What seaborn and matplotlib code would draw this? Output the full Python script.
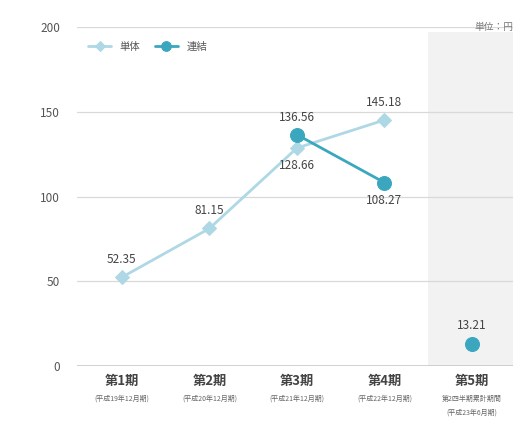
import matplotlib
matplotlib.use("Agg")
import matplotlib.pyplot as plt
import seaborn as sns
import pandas as pd
import numpy as np

periods = ["第1期", "第2期", "第3期", "第4期", "第5期"]
sub_labels = ["(平成19年12月期)", "(平成20年12月期)", "(平成21年12月期)", "(平成22年12月期)",
              "第2四半期累計期間\n(平成23年6月期)"]
tantai = [52.35, 81.15, 128.66, 145.18, np.nan]
renketsu = [np.nan, np.nan, 136.56, 108.27, 13.21]
series_names = ["単体", "連結"]
yticks = [0, 50, 100, 150, 200]
unit_label = "単位：円"

sns.set_theme(style="white")
plt.rcParams['font.family'] = ['Noto Sans CJK JP', 'DejaVu Sans']

c_tan = "#aed8e6"
c_ren = "#3aa7bf"

fig = plt.figure(figsize=(5.23, 4.25), dpi=100)
ax = fig.add_axes([0.147, 0.139, 0.834, 0.797])

x = np.arange(len(periods))
df_t = pd.DataFrame({"x": x, "v": tantai}).dropna()
df_r = pd.DataFrame({"x": x, "v": renketsu}).dropna()
df_r_line = df_r[df_r["x"] < 4]   # annual periods joined by a line
df_r_pt = df_r[df_r["x"] == 4]    # half-year period shown as a lone point

ax.axvspan(3.5, 4.6, ymin=0, ymax=0.985, color="#f2f2f2", zorder=0, lw=0)
for yt in yticks:
    ax.axhline(yt, color="#d9d9d9" if yt else "#c8c8c8", lw=1.2 if yt == 0 else 0.9, zorder=1)

sns.lineplot(data=df_t, x="x", y="v", ax=ax, color=c_tan, marker="D", markersize=7,
             markeredgecolor=c_tan, lw=2, label=series_names[0], zorder=3)
sns.lineplot(data=df_r_line, x="x", y="v", ax=ax, color=c_ren, marker="o", markersize=10,
             markeredgecolor=c_ren, lw=2, label=series_names[1], zorder=4)
sns.scatterplot(data=df_r_pt, x="x", y="v", ax=ax, color=c_ren, marker="o", s=100,
                edgecolor=c_ren, zorder=4, legend=False)

# value labels
above = {(0, 0), (0, 1), (1, 2), (0, 3), (1, 4)}
for si, vals in enumerate([tantai, renketsu]):
    for i, v in enumerate(vals):
        if np.isnan(v):
            continue
        if (si, i) in above:
            ax.annotate(f"{v:.2f}", (i, v), xytext=(0, 8), textcoords="offset points",
                        ha="center", va="bottom", fontsize=8.5, color="#444444", zorder=5)
        else:
            ax.annotate(f"{v:.2f}", (i, v), xytext=(0, -8), textcoords="offset points",
                        ha="center", va="top", fontsize=8.5, color="#444444", zorder=5)

ax.set_xlim(-0.514, 4.47)
ax.set_ylim(0, 200)
ax.set_yticks(yticks)
ax.set_yticklabels([str(v) for v in yticks], fontsize=8.5, color="#555555")
ax.tick_params(axis="y", length=0, pad=12)
ax.set_xticks(x)
ax.set_xticklabels(periods, fontsize=9.5, color="#444444", fontweight="bold")
ax.tick_params(axis="x", length=0, pad=6)
ax.set_xlabel("")
ax.set_ylabel("")
for s in ax.spines.values():
    s.set_visible(False)

trans = ax.get_xaxis_transform()
for i, lab in enumerate(sub_labels):
    ax.text(i, -0.085, lab, transform=trans, ha="center", va="top", fontsize=5,
            color="#666666", linespacing=1.9)

ax.text(1.0, 1.0, unit_label, transform=ax.transAxes, ha="right", va="center",
        fontsize=7, color="#777777")

leg = ax.legend(loc="upper left", bbox_to_anchor=(0.005, 0.985), ncol=2, frameon=False,
                fontsize=7.5, handlelength=2.2, columnspacing=1.4, markerscale=0.7)
for t in leg.get_texts():
    t.set_color("#555555")

fig.savefig("out.png", dpi=100)
